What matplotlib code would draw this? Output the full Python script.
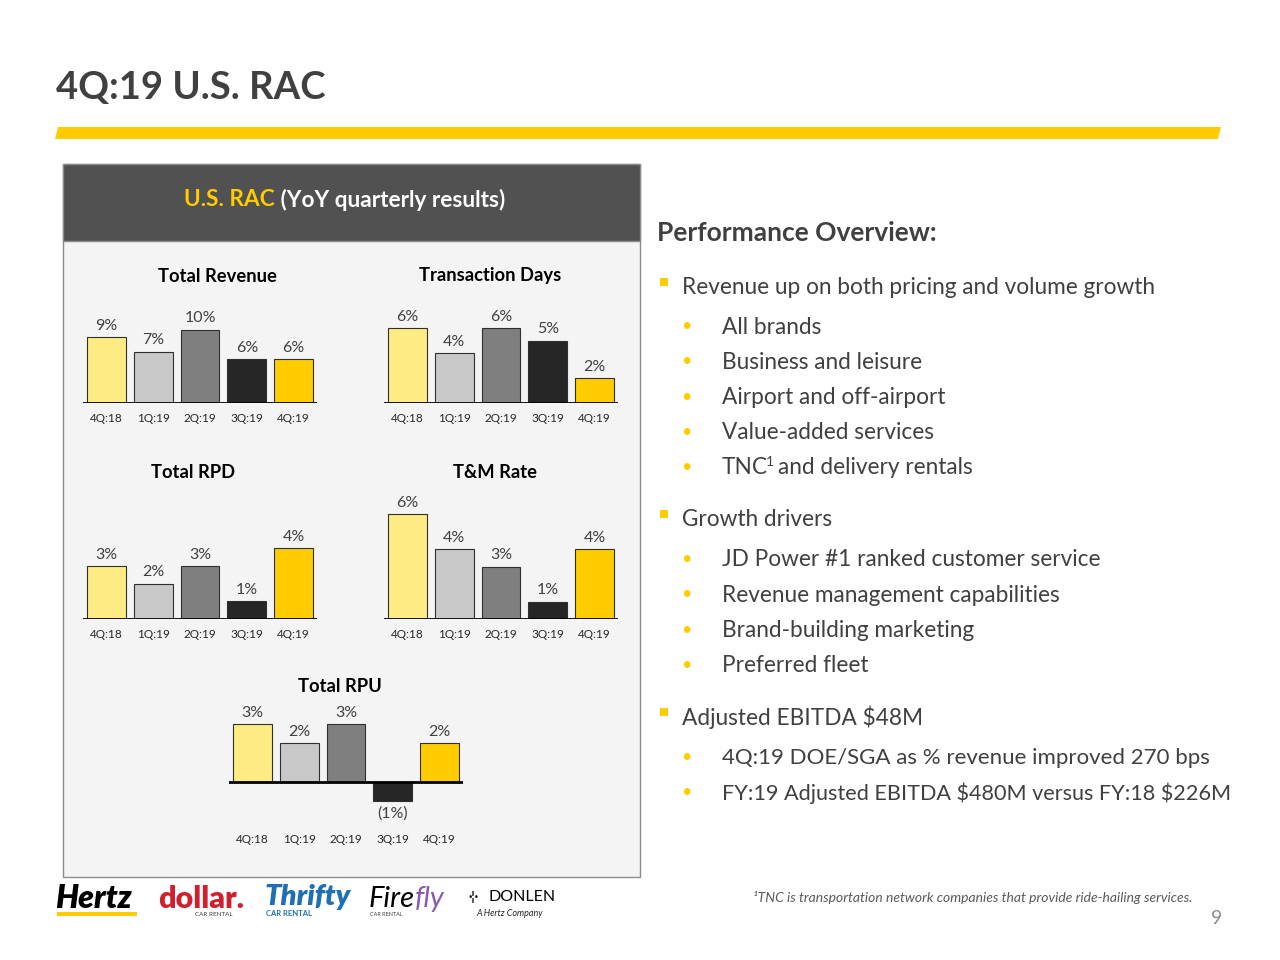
import matplotlib
matplotlib.use('Agg')
import matplotlib.pyplot as plt
from matplotlib.patches import Rectangle, Polygon

plt.rcParams['font.family'] = ['Lato', 'DejaVu Sans']
plt.rcParams['text.parse_math'] = False

quarters = ['4Q:18', '1Q:19', '2Q:19', '3Q:19', '4Q:19']
total_revenue = [9, 7, 10, 6, 6]
transaction_days = [6, 4, 6, 5, 2]
total_rpd = [3, 2, 3, 1, 4]
tm_rate = [6, 4, 3, 1, 4]
total_rpu = [3, 2, 3, -1, 2]
bar_colors = ['#FFEB84', '#C8C8C8', '#7F7F80', '#262626', '#FFCC00']

revenue_bullets = ['All brands', 'Business and leisure', 'Airport and off-airport',
                   'Value-added services']
driver_bullets = ['JD Power #1 ranked customer service', 'Revenue management capabilities',
                  'Brand-building marketing', 'Preferred fleet']
ebitda_bullets = ['4Q:19 DOE/SGA as % revenue improved 270 bps',
                  'FY:19 Adjusted EBITDA $480M versus FY:18 $226M']

W, H = 1280, 960
TXT = '#404040'
YEL = '#FFCC00'

fig = plt.figure(figsize=(12.8, 9.6), dpi=100)
renderer = fig.canvas.get_renderer()
bg = fig.add_axes([0, 0, 1, 1])
bg.set_xlim(0, W)
bg.set_ylim(H, 0)
bg.axis('off')


def text_run(x, y, pieces, gap=0):
    # pieces: list of (text, kwargs); draws them left to right
    for s, kw in pieces:
        t = bg.text(x, y, s, va='center', ha='left', **kw)
        x += t.get_window_extent(renderer).width + gap
    return x


# title + stripe
bg.text(56, 88, '4Q:19 U.S. RAC', fontsize=27.5, fontweight='bold', color=TXT, va='center')
bg.add_patch(Polygon([(58, 127), (1221, 127), (1218, 139), (55, 139)], color=YEL, lw=0))

# chart panel
bg.add_patch(Rectangle((63, 164), 577, 713, facecolor='#F4F4F4', edgecolor='#8C8C8C', lw=1))
bg.add_patch(Rectangle((63, 164), 577, 77, facecolor='#515151', edgecolor='#8C8C8C', lw=1))
text_run(184, 200, [('U.S. RAC', dict(fontsize=16.3, fontweight='bold', color=YEL)),
                    (' (YoY quarterly results)', dict(fontsize=16.3, fontweight='bold', color='white'))])


def bar_chart(vals, title, left, baseline, ppu, title_x, title_y, lo_px=0):
    top = baseline - 110
    bottom = baseline + lo_px
    ax = fig.add_axes([left / W, 1 - bottom / H, 234 / W, (bottom - top) / H])
    ax.set_xlim(-0.5, 4.5)
    ax.set_ylim(-lo_px / ppu, (baseline - top) / ppu)
    ax.bar(range(5), vals, width=0.83, color=bar_colors, edgecolor='#303030', linewidth=0.8)
    ax.axhline(0, color='black', lw=2)
    for i, v in enumerate(vals):
        if v >= 0:
            ax.annotate(f'{v}%', (i, v), xytext=(0, 3), textcoords='offset points',
                        ha='center', va='bottom', fontsize=11.5, color=TXT)
        else:
            ax.annotate(f'({-v}%)', (i, v), xytext=(0, -4), textcoords='offset points',
                        ha='center', va='top', fontsize=11.5, color=TXT)
    ax.set_xticks(range(5))
    ax.set_xticklabels(quarters, fontsize=8.5, color='#262626')
    ax.tick_params(length=0, pad=7)
    ax.set_yticks([])
    for s in ax.spines.values():
        s.set_visible(False)
    ax.patch.set_alpha(0)
    bg.text(title_x, title_y, title, fontsize=13.2, fontweight='bold', color='black',
            ha='center', va='center')


bar_chart(total_revenue, 'Total Revenue', 83, 403, 7.35, 217, 276)
bar_chart(transaction_days, 'Transaction Days', 384, 403, 12.5, 490, 276)
bar_chart(total_rpd, 'Total RPD', 83, 619, 17.7, 193, 473)
bar_chart(tm_rate, 'T&M Rate', 384, 619, 17.5, 495, 473)
bar_chart(total_rpu, 'Total RPU', 229, 782, 19.3, 340, 687, lo_px=42)

# right-hand text
bg.text(657, 233, 'Performance Overview:', fontsize=19, fontweight='bold', color=TXT, va='center')
BODY = dict(fontsize=16.3, color=TXT)


def main_bullet(y, text):
    bg.add_patch(Rectangle((660, y - 9), 8, 8, color=YEL, lw=0))
    bg.text(682, y, text, va='center', **BODY)


def sub_bullet(y, text, size=16.3):
    bg.text(686, y - 1, '\u2022', fontsize=13, color=YEL, va='center', ha='center')
    if text:
        bg.text(722, y, text, va='center', fontsize=size, color=TXT)


main_bullet(287, 'Revenue up on both pricing and volume growth')
for k, t in enumerate(revenue_bullets):
    sub_bullet(327 + 35.3 * k, t)
sub_bullet(468, '')
xe = text_run(722, 468, [('TNC', BODY)])
bg.text(xe - 2, 462, '1', fontsize=10, color=TXT, va='center')
bg.text(xe + 10, 468, 'and delivery rentals', va='center', **BODY)

main_bullet(519, 'Growth drivers')
for k, t in enumerate(driver_bullets):
    sub_bullet(560 + 35.3 * k, t)

main_bullet(717, 'Adjusted EBITDA $48M')
sub_bullet(758, ebitda_bullets[0], 16.0)
sub_bullet(793, ebitda_bullets[1], 15.6)

# footnote + page number
bg.text(1192, 898, '\u00b9TNC is transportation network companies that provide ride-hailing services.',
        fontsize=10, style='italic', color='#595959', ha='right', va='center')
bg.text(1222, 919, '9', fontsize=14, color='#8C8C8C', ha='right', va='center')

# brand logos (text approximations)
bg.text(55, 899, 'Hertz', fontsize=23, fontweight='heavy', style='italic', color='black', va='center')
bg.add_patch(Rectangle((57, 912), 80, 4, color=YEL, lw=0))
bg.text(158, 899, 'dollar.', fontsize=22, fontweight='heavy', color='#D0202E', va='center')
bg.text(195, 914, 'CAR RENTAL', fontsize=4.5, color='#404040', va='center')
bg.text(264, 897, 'Thrifty', fontsize=21, fontweight='heavy', style='italic', color='#1F6FB5', va='center')
bg.text(266, 914, 'CAR RENTAL', fontsize=5.5, fontweight='bold', color='#1F6FB5', va='center')
text_run(369, 899, [('Fire', dict(fontsize=21, style='italic', color='black')),
                    ('fly', dict(fontsize=21, style='italic', color='#8A5BA8'))])
bg.text(370, 914, 'CAR RENTAL', fontsize=4, color='#404040', va='center')
bg.text(468, 897, '\u00b7\u00a6\u00b7', fontsize=9, fontweight='bold', color='black', va='center')
bg.text(489, 897, 'DONLEN', fontsize=11.5, color='black', va='center')
bg.text(476, 913, 'A Hertz Company', fontsize=6.5, style='italic', color='#222222', va='center')

fig.savefig('out.png', dpi=100)
